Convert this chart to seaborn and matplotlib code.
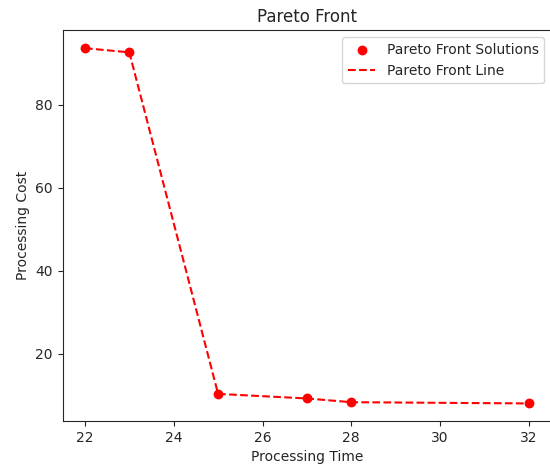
import matplotlib
matplotlib.use("Agg")
import matplotlib.pyplot as plt
import seaborn as sns
import pandas as pd

processing_time = [22, 23, 25, 27, 28, 32]
processing_cost = [93.7, 92.7, 10.3, 9.2, 8.3, 8.0]

df = pd.DataFrame({"Processing Time": processing_time, "Processing Cost": processing_cost})

sns.set_style("ticks")
plt.rcParams["font.family"] = ["DejaVu Sans"]
fig, ax = plt.subplots(figsize=(5.5, 4.68), dpi=100)
sns.scatterplot(data=df, x="Processing Time", y="Processing Cost", color="red", s=50,
                edgecolor="red", linewidth=0, label="Pareto Front Solutions", ax=ax, zorder=3)
sns.lineplot(data=df, x="Processing Time", y="Processing Cost", color="red", linestyle="--",
             label="Pareto Front Line", ax=ax, sort=True)
ax.set_title("Pareto Front")
ax.set_xlabel("Processing Time")
ax.set_ylabel("Processing Cost")
ax.legend(loc="upper right")
fig.subplots_adjust(left=0.114, right=1.002, top=0.935, bottom=0.1)
fig.savefig("out.png", dpi=100)
